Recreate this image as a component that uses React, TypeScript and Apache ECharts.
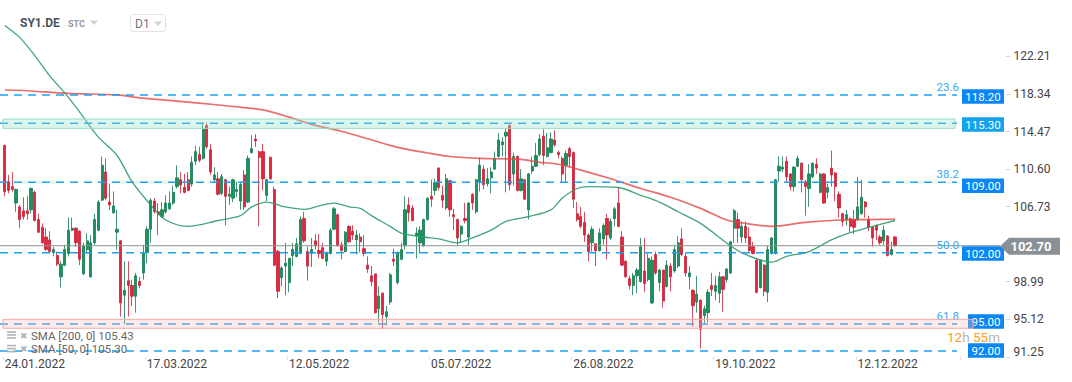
import React, { useEffect, useRef } from 'react';
import * as echarts from 'echarts';

// ---------- data ----------
const openPrices = [
  113.05, 109.3, 108.8, 107.1, 106.7, 106.3, 106.3, 106.4, 108.2, 105.4,
  104.6, 103.6, 103.3, 102.0, 101.7, 99.5, 100.7, 101.9, 104.3, 104.5,
  104.2, 99.8, 102.3, 99.5, 103.0, 104.3, 107.4, 110.3, 107.2, 106.1,
  104.1, 103.2, 97.6, 99.1, 98.6, 97.5, 99.0, 99.9, 102.0, 104.4,
  107.3, 106.2, 105.7, 106.2, 106.5, 107.1, 108.8, 109.5, 108.7, 109.5,
  109.05, 111.4, 112.1, 111.7, 115.1, 112.6, 109.5, 109.6, 108.1, 109.5,
  107.8, 107.6, 108.3, 107.3, 110.0, 107.2, 112.3, 113.7, 112.4, 112.4,
  107.9, 111.8, 108.5, 102.1, 99.4, 100.6, 98.9, 101.7, 101.6, 101.9,
  105.5, 102.1, 101.9, 103.2, 102.2, 102.5, 101.1, 101.9, 104.4, 105.9,
  102.8, 102.1, 104.7, 104.2, 103.3, 103.6, 102.4, 100.7, 99.6, 99.8,
  96.2, 97.8, 95.4, 96.9, 101.3, 98.9, 101.3, 102.7, 106.9, 106.6,
  103.7, 103.0, 102.7, 105.4, 107.8, 108.4, 110.7, 107.9, 106.6, 109.4,
  105.9, 105.4, 103.9, 105.5, 103.6, 108.0, 106.2, 109.3, 110.6, 109.1,
  109.7, 110.6, 111.9, 113.1, 114.0, 115.1, 110.1, 111.9, 108.4, 109.5,
  106.4, 110.4, 110.9, 112.1, 114.0, 111.9, 112.3, 113.6, 112.3, 111.7,
  111.0, 112.7, 112.3, 106.0, 105.7, 105.1, 103.8, 103.0, 102.9, 102.2,
  103.4, 105.5, 103.5, 105.5, 107.1, 103.6, 101.1, 99.3, 98.6, 99.6,
  99.0, 100.1, 99.2, 96.8, 101.8, 98.9, 100.2, 98.5, 100.6, 100.1,
  100.6, 103.4, 101.6, 99.5, 98.1, 96.9, 97.1, 95.5, 95.8, 98.6,
  98.0, 97.8, 99.5, 99.2, 99.9, 104.5, 105.4, 103.6, 104.7, 103.6,
  102.6, 101.2, 98.4, 100.7, 97.9, 101.9, 101.9, 110.4, 110.6, 111.4,
  110.1, 108.8, 110.9, 111.2, 109.3, 108.6, 109.8, 111.1, 108.2, 110.1,
  108.2, 110.7, 110.2, 108.0, 106.0, 105.4, 105.5, 105.4, 105.4, 106.0,
  107.2, 105.4, 104.6, 104.8, 103.6, 103.2, 103.7, 101.8, 103.6
];
const closePrices = [
  108.26, 108.4, 108.5, 108.5, 105.4, 105.7, 106.0, 108.6, 105.3, 104.1,
  103.0, 102.3, 102.1, 102.3, 100.8, 100.8, 102.3, 104.3, 104.5, 103.0,
  101.3, 102.7, 103.2, 103.0, 105.4, 107.2, 111.0, 107.6, 106.9, 106.8,
  104.4, 96.8, 98.1, 98.6, 97.5, 99.6, 98.6, 102.0, 104.4, 107.4,
  106.2, 105.9, 106.4, 107.1, 107.1, 108.2, 109.7, 108.95, 108.2, 108.4,
  111.3, 112.4, 111.5, 114.7, 112.9, 110.3, 110.0, 108.0, 109.8, 107.8,
  108.0, 109.5, 108.5, 109.0, 106.7, 111.7, 112.7, 113.5, 111.8, 109.6,
  109.5, 109.6, 100.7, 98.0, 100.4, 100.9, 101.4, 102.3, 102.9, 105.4,
  103.2, 100.6, 102.3, 102.7, 101.9, 101.4, 101.9, 104.3, 106.5, 102.7,
  102.2, 104.1, 103.1, 103.8, 103.8, 103.1, 101.9, 100.3, 99.0, 95.8,
  97.5, 95.6, 95.9, 99.7, 101.1, 102.0, 102.3, 106.4, 106.1, 105.3,
  104.0, 104.3, 105.4, 107.6, 107.5, 109.2, 108.7, 107.4, 109.6, 106.4,
  105.7, 103.5, 104.7, 105.3, 107.1, 107.1, 109.5, 111.0, 109.0, 109.6,
  110.3, 111.7, 113.6, 113.4, 114.4, 109.0, 111.9, 108.4, 109.6, 107.5,
  110.1, 110.9, 112.0, 113.7, 112.0, 112.8, 113.7, 113.1, 112.1, 110.1,
  112.2, 111.9, 107.5, 105.4, 104.7, 103.8, 102.1, 104.4, 102.2, 104.0,
  104.8, 103.8, 105.2, 106.5, 104.7, 100.7, 99.5, 98.6, 99.6, 100.2,
  102.6, 98.8, 101.4, 101.2, 99.9, 100.2, 97.0, 100.7, 99.5, 102.3,
  103.0, 101.8, 99.9, 99.9, 96.5, 97.7, 94.1, 96.2, 97.9, 98.2,
  98.6, 99.5, 98.2, 100.3, 103.1, 106.3, 104.5, 104.7, 103.5, 102.2,
  101.9, 97.9, 101.2, 98.0, 102.3, 103.5, 109.5, 110.9, 110.8, 109.8,
  108.8, 110.8, 111.7, 109.5, 108.8, 110.1, 111.2, 110.7, 110.1, 107.1,
  108.7, 110.0, 108.8, 106.6, 105.2, 105.9, 104.7, 104.6, 106.7, 107.7,
  106.7, 104.6, 103.5, 104.3, 103.0, 104.3, 101.7, 102.3, 102.7
];
const lowPrices = [
  107.8, 108.1, 108.3, 106.2, 104.5, 105.4, 105.4, 106.0, 105.2, 104.0,
  102.9, 102.2, 102.0, 101.6, 100.6, 98.4, 100.6, 101.6, 104.2, 102.6,
  100.7, 99.7, 101.9, 99.4, 102.8, 104.2, 107.3, 107.4, 106.4, 106.0,
  102.3, 95.4, 94.6, 95.4, 96.5, 95.8, 98.3, 99.2, 100.9, 103.0,
  106.0, 103.8, 105.6, 106.0, 106.4, 106.9, 108.6, 108.1, 108.1, 108.3,
  108.8, 111.0, 111.3, 111.6, 112.7, 110.0, 109.3, 107.9, 107.9, 104.8,
  106.9, 107.2, 107.7, 106.4, 106.4, 107.1, 112.2, 112.9, 104.7, 108.4,
  107.3, 109.5, 100.6, 97.3, 98.5, 97.6, 97.9, 100.6, 101.5, 101.8,
  103.0, 99.1, 100.5, 102.3, 101.4, 101.3, 100.6, 101.8, 104.3, 102.6,
  101.3, 102.0, 103.0, 103.3, 101.8, 102.0, 101.6, 99.9, 98.5, 95.7,
  94.8, 94.1, 94.5, 96.6, 100.6, 98.7, 101.2, 102.3, 105.2, 105.2,
  101.4, 101.9, 102.6, 105.3, 106.7, 107.9, 108.4, 106.6, 106.4, 105.7,
  104.3, 102.7, 103.0, 105.0, 102.8, 106.4, 106.0, 108.3, 108.5, 108.8,
  108.1, 110.5, 111.8, 111.9, 108.2, 108.4, 108.9, 108.3, 108.3, 107.4,
  105.4, 110.1, 110.8, 111.9, 111.0, 111.8, 112.2, 112.9, 111.7, 109.3,
  109.3, 110.8, 106.6, 105.2, 104.5, 103.1, 101.1, 102.1, 100.6, 102.1,
  102.8, 101.3, 103.3, 104.7, 104.6, 100.6, 99.4, 98.2, 97.6, 97.8,
  98.9, 97.9, 99.0, 96.7, 99.7, 98.0, 96.3, 98.4, 98.0, 99.9,
  100.4, 101.6, 99.5, 98.2, 94.4, 95.8, 92.1, 94.6, 94.8, 97.5,
  97.1, 96.8, 95.9, 98.9, 99.8, 103.0, 103.0, 103.0, 103.0, 102.1,
  101.8, 97.8, 98.3, 97.5, 96.9, 101.8, 101.8, 109.3, 110.3, 109.3,
  108.4, 108.3, 110.8, 108.2, 105.8, 106.7, 109.7, 110.1, 108.1, 107.0,
  107.6, 108.8, 107.3, 105.6, 104.7, 104.8, 104.1, 103.9, 105.3, 105.9,
  105.6, 104.2, 102.6, 103.3, 102.8, 102.8, 101.6, 101.7, 102.6
];
const highPrices = [
  113.1, 110.0, 110.3, 108.6, 106.9, 107.7, 107.8, 108.7, 108.4, 106.0,
  105.0, 104.5, 104.2, 102.6, 102.1, 101.1, 102.8, 105.6, 105.6, 104.6,
  104.3, 103.0, 104.0, 103.8, 106.0, 107.4, 111.9, 111.7, 109.1, 108.3,
  106.4, 103.3, 101.1, 101.1, 99.2, 99.9, 99.5, 102.8, 104.7, 107.6,
  107.6, 107.1, 107.2, 107.9, 108.3, 108.9, 111.0, 110.3, 110.1, 110.3,
  111.9, 113.0, 112.9, 115.3, 115.4, 113.2, 110.8, 110.3, 110.1, 109.6,
  108.8, 109.6, 109.3, 109.3, 110.5, 112.0, 114.1, 114.2, 112.5, 113.2,
  109.6, 111.9, 108.8, 102.3, 100.6, 103.0, 101.4, 103.0, 103.5, 105.7,
  106.2, 102.6, 103.5, 103.9, 103.9, 103.0, 102.1, 104.5, 106.7, 106.0,
  103.1, 104.2, 104.8, 104.8, 104.3, 104.0, 103.8, 101.6, 100.6, 99.8,
  98.5, 97.9, 96.5, 99.9, 102.4, 102.1, 103.0, 107.8, 107.7, 106.9,
  104.6, 104.7, 105.5, 107.7, 109.5, 109.6, 110.8, 108.9, 110.1, 109.5,
  106.5, 105.5, 104.8, 107.1, 107.2, 108.1, 109.6, 111.8, 111.0, 110.7,
  110.8, 112.4, 114.3, 113.9, 114.8, 115.2, 112.3, 112.0, 110.6, 109.6,
  110.2, 111.9, 113.3, 114.2, 114.7, 114.3, 114.4, 114.6, 112.5, 111.9,
  112.5, 112.9, 112.4, 107.2, 106.7, 106.2, 104.0, 104.7, 102.9, 104.5,
  105.0, 106.0, 105.5, 106.7, 108.7, 104.2, 101.2, 99.6, 99.9, 100.4,
  103.5, 103.5, 101.9, 101.6, 102.1, 100.3, 100.2, 101.2, 100.9, 102.8,
  103.7, 104.5, 102.0, 100.6, 98.2, 99.6, 97.1, 96.5, 98.2, 99.9,
  99.6, 100.0, 99.6, 100.4, 103.2, 106.5, 106.1, 105.2, 105.2, 104.6,
  103.1, 101.4, 101.3, 100.8, 102.7, 103.6, 109.6, 111.9, 111.9, 111.9,
  110.2, 110.9, 112.0, 111.3, 109.5, 111.1, 111.3, 111.7, 110.2, 110.2,
  109.1, 112.5, 110.3, 108.3, 106.1, 106.4, 105.6, 106.4, 109.8, 109.5,
  107.3, 105.8, 104.7, 104.9, 103.8, 104.8, 103.8, 103.1, 103.7
];

// SMA lines, read at sample candles
const sma200Index = [0, 5, 17, 30, 36, 43, 52, 61, 69, 76, 83, 90, 103, 108, 114, 119, 127, 138, 143, 148, 154, 162, 170, 178, 186, 193, 198, 205, 214, 223, 230, 238];
const sma200Values = [118.75, 118.7, 118.4, 118.25, 117.95, 117.7, 117.4, 117.05, 116.7, 115.95, 115.1, 114.5, 113.05, 112.6, 112.2, 111.9, 111.7, 111.6, 111.3, 111.1, 110.5, 109.6, 108.6, 107.7, 106.55, 105.35, 105.0, 104.7, 105.1, 105.35, 105.4, 105.43];
const sma50Index = [0, 4, 8, 12, 17, 21, 25, 30, 34, 39, 43, 49, 57, 63, 66, 70, 75, 80, 84, 88, 92, 95, 98, 103, 106, 112, 116, 121, 125, 130, 134, 140, 146, 149, 153, 156, 164, 170, 175, 180, 186, 194, 198, 205, 209, 215, 221, 226, 231, 238];
const sma50Values = [125.4, 124.15, 122.3, 120.2, 118.0, 115.95, 113.9, 112.0, 109.3, 106.9, 105.35, 104.7, 105.3, 105.8, 106.7, 107.2, 106.7, 106.45, 106.8, 107.1, 106.7, 106.55, 105.8, 104.7, 104.0, 103.6, 103.4, 103.0, 103.5, 104.3, 105.2, 105.7, 106.4, 107.6, 108.6, 108.8, 108.7, 107.9, 107.2, 106.2, 105.0, 102.7, 101.8, 101.0, 101.6, 102.1, 103.3, 104.05, 104.6, 105.3];

// horizontal levels (line position, and the value written on its tag)
const levelPrices = [118.24, 115.32, 109.24, 101.98, 94.63, 91.85];
const levelLabels = ['118.20', '115.30', '109.00', '102.00', '95.00', '92.00'];
const fibRatios = ['23.6', '', '38.2', '50.0', '61.8', ''];
const greenBand = [115.76, 114.8];
const pinkBand = [95.11, 94.19];
const lastPrice = 102.7;

// axis ticks
const yTickValues = [91.25, 95.12, 98.99, 106.73, 110.6, 114.47, 118.34, 122.21];
const xTickLabels = ['24.01.2022', '17.03.2022', '12.05.2022', '05.07.2022', '26.08.2022', '19.10.2022', '12.12.2022'];
const closedDays = ['2022-04-15', '2022-04-18'];
const legendTexts = ['SMA [200, 0] 105.43', 'SMA [50, 0] 105.30'];
const symbolName = 'SY1.DE';
const timeframe = 'D1';
const countdown = ['12', '55'];

// ---------- helpers ----------
function tradingDates(count: number): string[] {
  const out: string[] = [];
  const d = new Date(Date.UTC(2022, 0, 12));
  while (out.length < count) {
    const dow = d.getUTCDay();
    const iso = d.toISOString().slice(0, 10);
    if (dow !== 0 && dow !== 6 && !closedDays.includes(iso)) {
      out.push(`${iso.slice(8, 10)}.${iso.slice(5, 7)}.${iso.slice(0, 4)}`);
    }
    d.setUTCDate(d.getUTCDate() + 1);
  }
  return out;
}

const FONT = 'Roboto, "Noto Sans", sans-serif';

export default function App() {
  const ref = useRef<HTMLDivElement>(null);

  useEffect(() => {
    document.body.style.margin = '0';
    const el = ref.current!;
    const chart = echarts.init(el, null, { renderer: 'svg' });

    const n = openPrices.length;
    const dates = tradingDates(n);
    const pad = 17;
    const categories = dates.concat(Array.from({ length: pad }, (_, k) => `pad${k}`));
    const candles = openPrices.map((o, i) => [o, closePrices[i], lowPrices[i], highPrices[i]]);

    const option: any = {
      animation: false,
      grid: { left: 3, top: 0, width: 957.5, height: 356.8 },
      xAxis: {
        type: 'category',
        data: categories,
        boundaryGap: true,
        axisLine: { show: false },
        axisTick: {
          show: true,
          interval: (i: number) => i % 38 === 0 && i < n,
          length: 3,
          lineStyle: { color: '#dcdcdc' },
        },
        axisLabel: {
          interval: (_i: number, v: string) => xTickLabels.includes(v),
          margin: 1,
          color: '#444',
          fontSize: 12,
          fontFamily: FONT,
        },
        splitLine: { show: false },
      },
      yAxis: {
        type: 'value',
        position: 'right',
        offset: 45,
        min: 91.25,
        max: 128.03,
        axisLine: { show: false },
        axisTick: { show: true, length: 5, customValues: yTickValues, lineStyle: { color: '#d9d9d9' } },
        splitLine: { show: false },
        axisLabel: {
          customValues: yTickValues,
          margin: 8,
          color: '#444',
          fontSize: 12,
          fontFamily: FONT,
          formatter: (v: number) => (Math.abs(v - 91.25) < 0.001 ? `{low|${v.toFixed(2)}}` : v.toFixed(2)),
          rich: { low: { fontSize: 12, color: '#444', fontFamily: FONT, padding: [0, 0, 10, 0] } },
        },
      },
      series: [
        {
          type: 'candlestick',
          name: symbolName,
          data: candles,
          barWidth: 2.7,
          z: 3,
          itemStyle: {
            color: '#1a9360',
            color0: '#e0273e',
            borderColor: '#127a4c',
            borderColor0: '#c81f35',
            borderWidth: 0.8,
          },
        },
        {
          type: 'line',
          name: 'SMA200',
          data: sma200Index.map((x, i) => [x, sma200Values[i]]),
          smooth: 0.3,
          showSymbol: false,
          z: 4,
          lineStyle: { color: '#e24a4a', width: 1.7, opacity: 0.8 },
        },
        {
          type: 'line',
          name: 'SMA50',
          data: sma50Index.map((x, i) => [x, sma50Values[i]]),
          smooth: 0.3,
          showSymbol: false,
          z: 4,
          lineStyle: { color: '#2f9a6b', width: 1.3, opacity: 0.9 },
        },
      ],
    };
    chart.setOption(option);

    const py = (p: number) => chart.convertToPixel({ yAxisIndex: 0 }, p) as number;
    const g: any[] = [];
    const txt = (text: string, x: number, y: number, fill: string, font: string, align = 'left', vAlign = 'middle', z = 10) => ({
      type: 'text',
      z,
      style: { text, x, y, fill, font, align, textAlign: align, verticalAlign: vAlign, textVerticalAlign: vAlign },
    });

    // level lines
    levelPrices.forEach((p, k) => {
      const y = py(p);
      g.push({ type: 'line', z: 5, shape: { x1: 0, y1: y, x2: 957, y2: y }, style: { stroke: '#1ea0f0', lineWidth: 1.5, lineDash: [8, 6] } });
      if (fibRatios[k]) g.push(txt(fibRatios[k], 959, y - 2, '#3aa6ee', `11.5px ${FONT}`, 'right', 'bottom', 6));
    });
    // current price line
    const yl = py(lastPrice);
    g.push({ type: 'line', z: 5, shape: { x1: 0, y1: yl, x2: 1000, y2: yl }, style: { stroke: '#8c9296', lineWidth: 1 } });

    // level tags, placed at the value they show
    levelLabels.forEach((label, k) => {
      const y = py(parseFloat(label)) + 1;
      const left = k >= 4 ? 968 : 962;
      const color = k === 1 ? '#12a3ee' : '#0b86f5';
      g.push({ type: 'rect', z: 8, shape: { x: left, y: y - 7.2, width: 1004 - left, height: 14.5 }, style: { fill: color } });
      g.push(txt(label, (left + 1004) / 2, y + 0.3, '#ffffff', `11.5px ${FONT}`, 'center', 'middle', 9));
    });

    // bands
    const gy1 = py(greenBand[0]);
    const gy2 = py(greenBand[1]);
    g.push({ type: 'rect', z: 7, shape: { x: 3, y: gy1, width: 952, height: gy2 - gy1 }, style: { fill: 'rgba(150,228,200,0.32)', stroke: '#96dcbf', lineWidth: 1 } });
    const py1 = py(pinkBand[0]);
    const py2 = py(pinkBand[1]);
    g.push({ type: 'rect', z: 10, shape: { x: 3, y: py1, width: 970, height: py2 - py1 }, style: { fill: 'rgba(250,185,185,0.3)', stroke: '#f2a9a9', lineWidth: 1 } });

    // current price tag
    g.push({
      type: 'polygon',
      z: 9,
      shape: { points: [[1000, yl + 0.5], [1009, yl - 8], [1060, yl - 8], [1060, yl + 9], [1009, yl + 9]] },
      style: { fill: '#8a9196' },
    });
    g.push(txt(lastPrice.toFixed(2), 1031, yl + 1, '#ffffff', `bold 13px ${FONT}`, 'center', 'middle', 10));

    // countdown
    g.push({
      type: 'text',
      z: 10,
      style: {
        text: `{o|${countdown[0]}}{g|h }{o|${countdown[1]}}{g|m}`,
        x: 947,
        y: 336.5,
        verticalAlign: 'middle',
        textVerticalAlign: 'middle',
        rich: {
          o: { fill: '#f5a02a', font: `13.5px ${FONT}`, lineHeight: 11 },
          g: { fill: '#b5b5b5', font: `13.5px ${FONT}`, lineHeight: 11 },
        },
      },
    });

    // title
    g.push(txt(symbolName, 20, 23, '#4b5159', `bold 12px ${FONT}`));
    g.push(txt('STC', 68, 24, '#8d96a0', `bold 9px ${FONT}`));
    g.push({ type: 'polygon', z: 10, shape: { points: [[90, 20.5], [98, 20.5], [94, 25]] }, style: { fill: '#d0d0d0' } });
    g.push({ type: 'rect', z: 10, shape: { x: 130.5, y: 14.5, width: 35, height: 17, r: 3 }, style: { fill: '#ffffff', stroke: '#e2e2e2', lineWidth: 1 } });
    g.push(txt(timeframe, 135, 23.5, '#777', `12px ${FONT}`, 'left', 'middle', 11));
    g.push({ type: 'polygon', z: 11, shape: { points: [[154, 21.5], [162, 21.5], [158, 26]] }, style: { fill: '#d0d0d0' } });

    // legend rows
    legendTexts.forEach((t, k) => {
      const y = 335.7 + k * 13.6;
      g.push({ type: 'rect', z: 11, shape: { x: 7, y: y - 4.5, width: 9, height: 1.6 }, style: { fill: '#b3b3b3' } });
      g.push({ type: 'rect', z: 11, shape: { x: 7, y: y - 1.5, width: 9, height: 1.6 }, style: { fill: '#b3b3b3' } });
      g.push({ type: 'rect', z: 11, shape: { x: 7, y: y + 1.5, width: 9, height: 1.6 }, style: { fill: '#b3b3b3' } });
      g.push(txt('✖', 20, y, '#b3b3b3', `9px ${FONT}`, 'left', 'middle', 11));
      g.push(txt(t, 31, y, '#666', `11.5px ${FONT}`, 'left', 'middle', 11));
    });

    chart.setOption({ graphic: g });

    return () => chart.dispose();
  }, []);

  return <div ref={ref} style={{ width: 1072, height: 382 }} />;
}
